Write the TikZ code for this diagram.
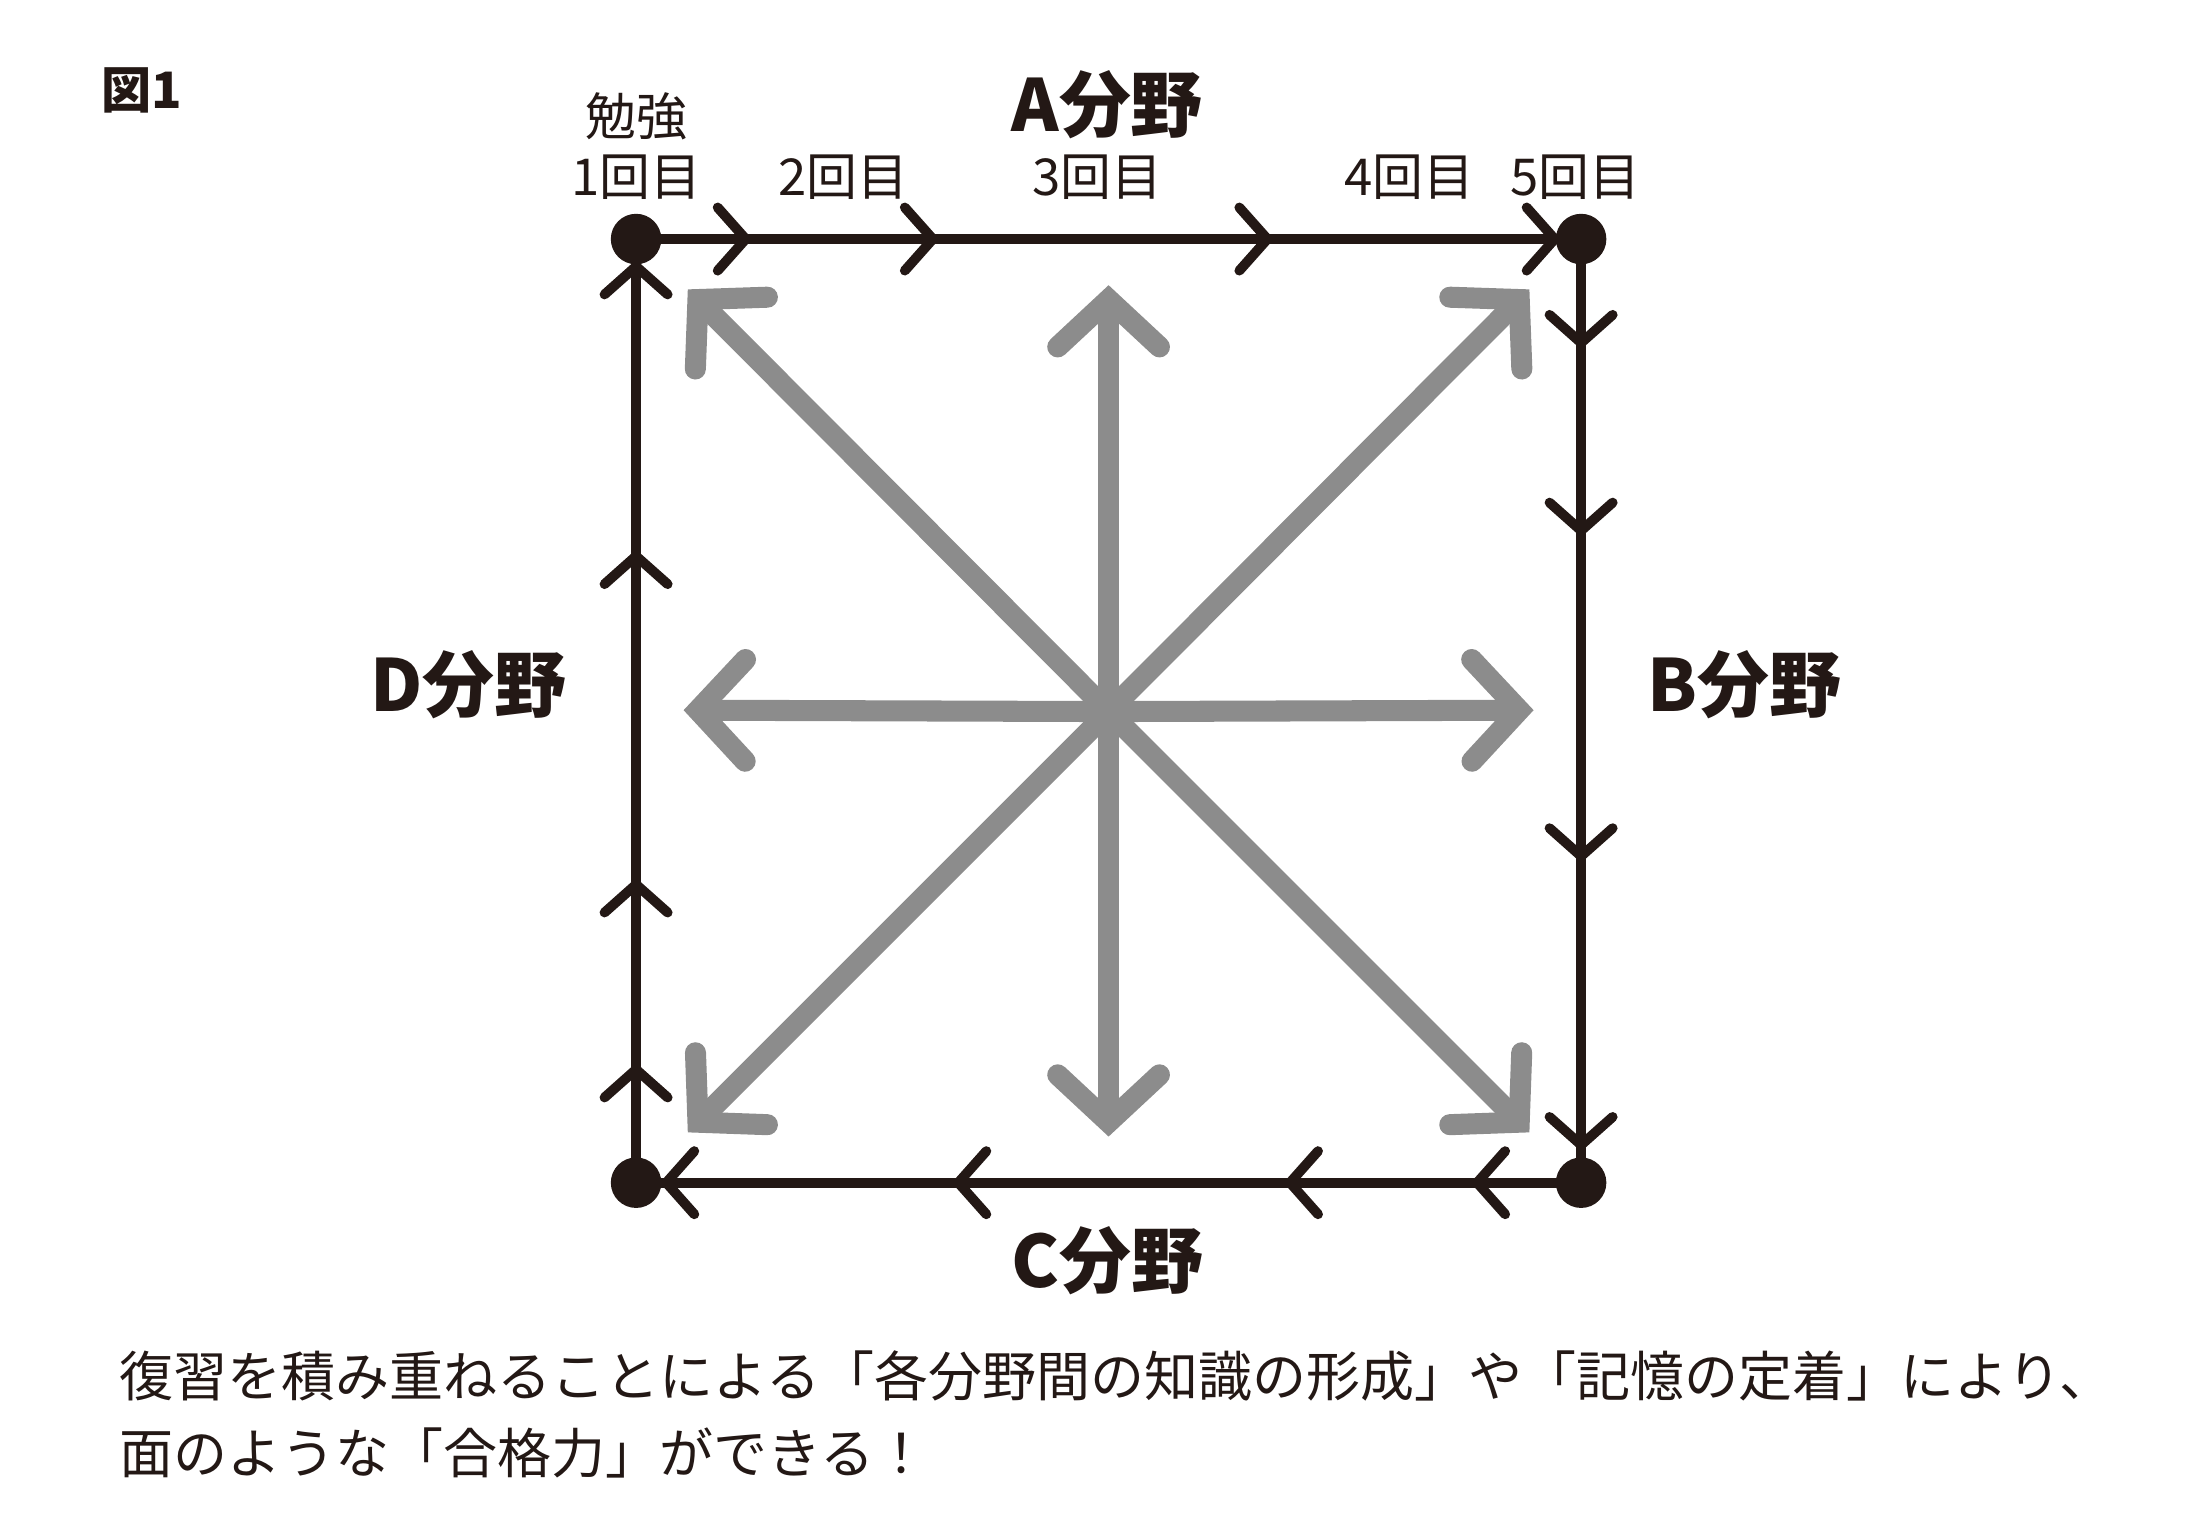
\documentclass[tikz,border=0pt]{standalone}
\usepackage{fontspec}
\setmainfont{Noto Sans CJK JP}
\usepackage{tikz}
\usetikzlibrary{arrows.meta}
\usetikzlibrary{decorations.markings}

\definecolor{inkblack}{HTML}{231815}
\definecolor{arrowgray}{HTML}{8C8C8C}

\tikzset{
  side/.style={draw=inkblack,line width=2.8pt,postaction={decorate}},
  chev/.tip={Straight Barb[length=8pt,width=18pt,line cap=round,line join=miter]},
  spoke/.style={draw=arrowgray,line width=6pt,-{Straight Barb[length=13.5pt,width=29pt,line cap=round,line join=miter]}},
  corner/.style={circle,fill=inkblack,minimum size=14.4pt,inner sep=0pt},
  field/.style={font=\fontsize{20.5}{20.5}\selectfont\bfseries,text=inkblack,inner sep=0pt},
  count/.style={font=\fontsize{14.5}{14.5}\selectfont,text=inkblack,inner sep=0pt}
}

\begin{document}
\begin{tikzpicture}[x=0.014cm,y=-0.014cm]
  \useasboundingbox (0,0) rectangle (1568,1097);
  \coordinate (cTL) at (455,171);
  \coordinate (cTR) at (1131,171);
  \coordinate (cBR) at (1131,846);
  \coordinate (cBL) at (455,846);
  \coordinate (ctr) at (793,509);
  % gray spokes
  \draw[spoke] (ctr) -- (793,204);
  \draw[spoke] (ctr) -- (793,813);
  \draw[spoke] (ctr) -- (489,508);
  \draw[spoke] (ctr) -- (1097,508);
  \draw[spoke] (ctr) -- (492,207);
  \draw[spoke] (ctr) -- (1094,207);
  \draw[spoke] (ctr) -- (492,810);
  \draw[spoke] (ctr) -- (1094,810);
  % square with chevrons
  \draw[side,decoration={markings,mark=at position .123 with {\arrow{chev}},mark=at position .321 with {\arrow{chev}},mark=at position .675 with {\arrow{chev}},mark=at position .979 with {\arrow{chev}}}] (cTL) -- (cTR);
  \draw[side,decoration={markings,mark=at position .117 with {\arrow{chev}},mark=at position .316 with {\arrow{chev}},mark=at position .661 with {\arrow{chev}},mark=at position .967 with {\arrow{chev}}}] (cTR) -- (cBR);
  \draw[side,decoration={markings,mark=at position .117 with {\arrow{chev}},mark=at position .315 with {\arrow{chev}},mark=at position .666 with {\arrow{chev}},mark=at position .975 with {\arrow{chev}}}] (cBR) -- (cBL);
  \draw[side,decoration={markings,mark=at position .127 with {\arrow{chev}},mark=at position .323 with {\arrow{chev}},mark=at position .671 with {\arrow{chev}},mark=at position .978 with {\arrow{chev}}}] (cBL) -- (cTL);
  \node[corner] (dTL) at (cTL) {};
  \node[corner] (dTR) at (cTR) {};
  \node[corner] (dBR) at (cBR) {};
  \node[corner] (dBL) at (cBL) {};
  % labels
  \node[count,font=\fontsize{14.3}{14.3}\selectfont\bfseries,anchor=west] (fig) at (72,65) {図1};
  \node[field] (fA) at (792,75) {A分野};
  \node[field] (fB) at (1248,490) {B分野};
  \node[field] (fC) at (792,902) {C分野};
  \node[field] (fD) at (335,490) {D分野};
  \node[count] (study) at (455,83) {勉強};
  \node[count] (n1) at (455,127) {1回目};
  \node[count] (n2) at (603,127) {2回目};
  \node[count] (n3) at (785,127) {3回目};
  \node[count] (n4) at (1008,127) {4回目};
  \node[count] (n5) at (1127,127) {5回目};
  \node[count,font=\fontsize{15.4}{21.9}\selectfont,align=left,anchor=west] (note) at (85,1012) {復習を積み重ねることによる「各分野間の知識の形成」や「記憶の定着」により、\\面のような「合格力」ができる！};
\end{tikzpicture}
\end{document}
